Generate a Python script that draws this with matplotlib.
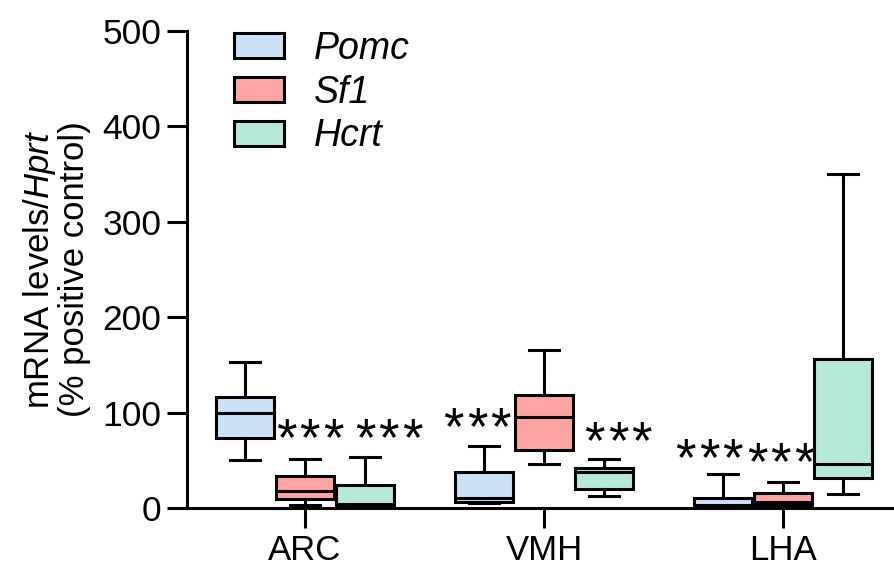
import matplotlib
matplotlib.use('Agg')
import matplotlib.pyplot as plt
import numpy as np
from matplotlib.patches import Patch

plt.rcParams['font.family'] = ['Liberation Sans', 'DejaVu Sans']
plt.rcParams['mathtext.fontset'] = 'custom'
plt.rcParams['mathtext.rm'] = 'Liberation Sans'
plt.rcParams['mathtext.it'] = 'Liberation Sans:italic'

regions = ['ARC', 'VMH', 'LHA']
genes = ['Pomc', 'Sf1', 'Hcrt']
colors = ['#CCE0F7', '#FFA3A3', '#B6EAD7']

# box stats per gene, per region: (whislo, q1, med, q3, whishi)
pomc = [(51, 73.5, 100, 116, 153), (5, 7, 10.5, 38, 65), (0.5, 1.5, 3, 10.5, 35.5)]
sf1 = [(3, 9.4, 18, 33.5, 52), (46, 60.7, 95.5, 119, 166), (1, 3.8, 6.6, 16.4, 27.5)]
hcrt = [(1.7, 3, 4, 24, 54), (13, 20, 38, 42, 52), (15, 32, 46, 156, 350)]
data = [pomc, sf1, hcrt]

# significance marks: (gene index, region index, x shift, height)
stars = [(1, 0, 0.02, 70), (2, 0, 0.10, 70),
         (0, 1, -0.03, 82), (2, 1, 0.06, 67),
         (0, 2, -0.06, 49), (1, 2, -0.01, 45)]

fig = plt.figure(figsize=(8.94, 5.66), dpi=100)
ax = fig.add_axes([0.209, 0.102, 0.791, 0.8438])

offsets = [-0.25, 0, 0.25]
group_x = np.arange(1, len(regions) + 1)
for g, (gene, col) in enumerate(zip(genes, colors)):
    stats = []
    for lo, q1, med, q3, hi in data[g]:
        stats.append(dict(whislo=lo, q1=q1, med=med, q3=q3, whishi=hi, fliers=[]))
    ax.bxp(stats, positions=group_x + offsets[g], widths=0.243, capwidths=0.125,
           patch_artist=True, manage_ticks=False,
           boxprops=dict(facecolor=col, edgecolor='black', linewidth=2.2),
           medianprops=dict(color='black', linewidth=2.2),
           whiskerprops=dict(color='black', linewidth=2.2),
           capprops=dict(color='black', linewidth=2.2))

# three stars per mark, 17 pt apart
for g, r, dx, y in stars:
    for k in (-1, 0, 1):
        ax.annotate('*', xy=(group_x[r] + offsets[g] + dx, y), xytext=(17 * k, 0),
                    textcoords='offset points', ha='center', va='center',
                    fontsize=38, color='black')

ax.set_xlim(0.506, 3.464)
ax.set_ylim(0, 500)
ax.set_yticks([0, 100, 200, 300, 400, 500])
ax.set_xticks(group_x)
ax.set_xticklabels(regions)
ax.spines['top'].set_visible(False)
ax.spines['right'].set_visible(False)
for s in ['left', 'bottom']:
    ax.spines[s].set_linewidth(2.2)
ax.tick_params(axis='y', length=14.4, width=2.2, labelsize=25.5, pad=4)
ax.tick_params(axis='x', length=14.4, width=2.2, labelsize=25, pad=4)

ax.set_ylabel('mRNA levels/$\\mathit{Hprt}$\n(% positive control)', fontsize=25,
              linespacing=1.0, labelpad=8)

handles = [Patch(facecolor=c, edgecolor='black', linewidth=2.2) for c in colors]
leg = ax.legend(handles, genes, loc='upper left', bbox_to_anchor=(215 / 894, 1 - 12 / 566),
                bbox_transform=fig.transFigure, frameon=False, borderpad=0,
                fontsize=27, handlelength=1.33, handleheight=0.64, handletextpad=0.8,
                labelspacing=0.21)
for t in leg.get_texts():
    t.set_fontstyle('italic')

fig.savefig('out.png', dpi=100)
